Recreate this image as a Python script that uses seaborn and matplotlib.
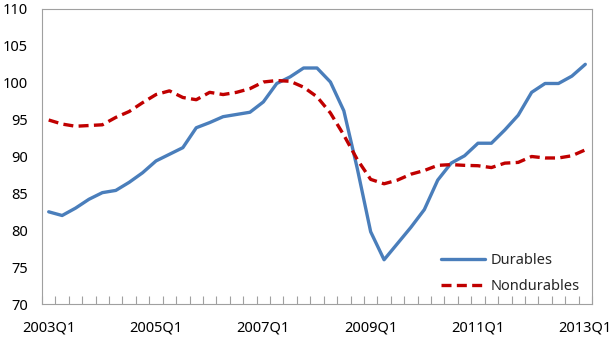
import matplotlib
matplotlib.use("Agg")
import matplotlib.pyplot as plt
import seaborn as sns
import pandas as pd
import numpy as np

quarters = [f"{y}Q{q}" for y in range(2003, 2014) for q in range(1, 5)][:41]

durables = [82.5, 82.0, 83.0, 84.2, 85.1, 85.4, 86.5, 87.8, 89.4, 90.3,
            91.2, 93.9, 94.6, 95.4, 95.7, 96.0, 97.4, 99.9, 100.8, 102.0,
            102.0, 100.1, 96.2, 88.4, 79.8, 76.0, 78.2, 80.4, 82.8, 86.8,
            89.1, 90.1, 91.8, 91.8, 93.6, 95.6, 98.7, 99.9, 99.9, 100.9,
            102.5]

nondurables = [94.95, 94.4, 94.1, 94.2, 94.3, 95.3, 96.1, 97.3, 98.4, 98.9,
               98.0, 97.7, 98.7, 98.4, 98.7, 99.2, 100.1, 100.3, 100.2, 99.4,
               98.1, 95.9, 92.9, 89.6, 86.9, 86.3, 86.8, 87.6, 88.1, 88.8,
               88.9, 88.8, 88.75, 88.5, 89.1, 89.2, 90.0, 89.8, 89.8, 90.1,
               90.9]

tick_labels = ["2003Q1", "2005Q1", "2007Q1", "2009Q1", "2011Q1", "2013Q1"]

df = pd.DataFrame({"quarter": quarters, "Durables": durables, "Nondurables": nondurables})
df["pos"] = np.arange(len(df))

sns.set_theme(style="white")
plt.rcParams["font.family"] = ["Noto Sans", "DejaVu Sans"]

fig = plt.figure(figsize=(6.13, 3.38), dpi=100)
ax = fig.add_axes([42/613, 1-304/338, 550/613, 295/338])

sns.lineplot(data=df, x="pos", y="Durables", ax=ax, color="#4A7EBB",
             linewidth=2.4, label="Durables")
sns.lineplot(data=df, x="pos", y="Nondurables", ax=ax, color="#C00000",
             linewidth=2.4, label="Nondurables")
ax.lines[1].set_dashes([3.0, 1.6])
ax.lines[1].set_dash_capstyle("butt")

ax.set_xlim(-0.5, len(df) - 0.5)
ax.set_ylim(70, 110)
ax.set_yticks(np.arange(70, 111, 5))
ax.set_xlabel("")
ax.set_ylabel("")

major_pos = [quarters.index(t) for t in tick_labels]
ax.set_xticks(major_pos)
ax.set_xticklabels(tick_labels)
ax.set_xticks(np.arange(-0.5, len(df), 1.0), minor=True)
ax.tick_params(axis="x", which="major", length=0, pad=12, labelsize=10.5, colors="black")
ax.tick_params(axis="x", which="minor", direction="in", length=5.5, width=0.8,
               color="#A0A0A0", bottom=True)
ax.tick_params(axis="y", length=0, pad=10, labelsize=10.5, colors="black")

for s in ax.spines.values():
    s.set_visible(True)
    s.set_color("#A0A0A0")
    s.set_linewidth(0.8)

leg = ax.legend(loc="lower left", bbox_to_anchor=((441-42)/550, 0.035),
                frameon=False, fontsize=10.5, handlelength=3.0,
                handletextpad=0.4, labelspacing=0.75, borderpad=0,
                borderaxespad=0)
leg.get_lines()[1].set_dashes([3.0, 1.6])

fig.savefig("out.png", dpi=100)
